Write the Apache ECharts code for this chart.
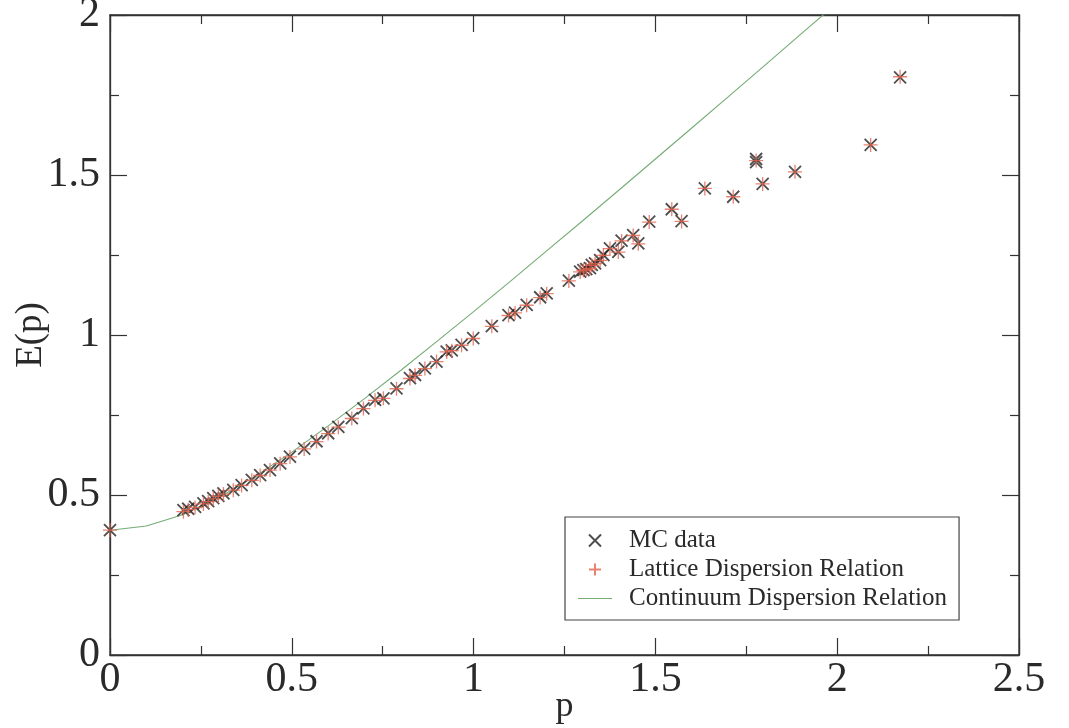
<!DOCTYPE html>
<html>
<head>
<meta charset="utf-8">
<script src="https://cdn.jsdelivr.net/npm/echarts@6/dist/echarts.min.js"></script>
<style>
  html, body { margin: 0; padding: 0; background: #ffffff; }
  #chart { width: 1069px; height: 728px; }
</style>
</head>
<body>
<div id="chart"></div>
<script>
// Monte Carlo energies E(p) versus momentum p
const mcP = [0.000, 0.202, 0.215, 0.234, 0.257, 0.270, 0.284, 0.298, 0.312, 0.339, 0.362, 0.390,
  0.413, 0.440, 0.468, 0.495, 0.534, 0.568, 0.600, 0.628, 0.665, 0.697, 0.729, 0.752, 0.788,
  0.825, 0.839, 0.866, 0.898, 0.926, 0.940, 0.967, 0.999, 1.050, 1.096, 1.114, 1.146, 1.183,
  1.201, 1.262, 1.293, 1.302, 1.310, 1.320, 1.325, 1.334, 1.348, 1.357, 1.375, 1.398, 1.407,
  1.439, 1.453, 1.483, 1.545, 1.572, 1.636, 1.714, 1.777, 1.777, 1.795, 1.884, 2.092, 2.173];
const mcE = [0.390, 0.453, 0.457, 0.463, 0.474, 0.481, 0.490, 0.497, 0.505, 0.516, 0.531, 0.547,
  0.562, 0.578, 0.599, 0.620, 0.645, 0.668, 0.693, 0.713, 0.740, 0.771, 0.797, 0.802, 0.833,
  0.865, 0.875, 0.896, 0.917, 0.948, 0.952, 0.969, 0.990, 1.028, 1.062, 1.070, 1.094, 1.118,
  1.130, 1.170, 1.198, 1.203, 1.206, 1.209, 1.219, 1.224, 1.234, 1.250, 1.271, 1.260, 1.295,
  1.312, 1.286, 1.354, 1.393, 1.356, 1.458, 1.432, 1.550, 1.540, 1.472, 1.510, 1.594, 1.805];

// Lattice dispersion relation evaluated at the same momenta
const latP = [0.000, 0.202, 0.215, 0.234, 0.257, 0.270, 0.284, 0.298, 0.312, 0.339, 0.362, 0.390,
  0.413, 0.440, 0.468, 0.495, 0.534, 0.568, 0.600, 0.628, 0.665, 0.697, 0.729, 0.752, 0.788,
  0.825, 0.839, 0.866, 0.898, 0.926, 0.940, 0.967, 0.999, 1.050, 1.096, 1.114, 1.146, 1.183,
  1.201, 1.262, 1.293, 1.302, 1.310, 1.320, 1.325, 1.334, 1.348, 1.357, 1.375, 1.398, 1.407,
  1.439, 1.453, 1.483, 1.545, 1.572, 1.636, 1.714, 1.777, 1.795, 1.884, 2.092, 2.173];
const latE = [0.390, 0.448, 0.454, 0.461, 0.472, 0.479, 0.488, 0.496, 0.503, 0.515, 0.530, 0.546,
  0.561, 0.578, 0.598, 0.619, 0.644, 0.667, 0.692, 0.712, 0.739, 0.770, 0.796, 0.802, 0.832,
  0.864, 0.874, 0.895, 0.917, 0.947, 0.951, 0.968, 0.989, 1.027, 1.061, 1.069, 1.093, 1.117,
  1.129, 1.169, 1.197, 1.202, 1.205, 1.208, 1.218, 1.223, 1.233, 1.249, 1.270, 1.259, 1.294,
  1.311, 1.285, 1.353, 1.393, 1.355, 1.458, 1.432, 1.545, 1.472, 1.510, 1.594, 1.807];

// Continuum dispersion relation
const contP = [0.0, 0.1, 0.2, 0.3, 0.4, 0.5, 0.6, 0.7, 0.8, 0.9, 1.0,
  1.1, 1.2, 1.3, 1.4, 1.5, 1.6, 1.7, 1.8, 1.9, 2.0];
const contE = [0.390, 0.403, 0.438, 0.492, 0.559, 0.634, 0.716, 0.801, 0.890, 0.981, 1.073,
  1.167, 1.262, 1.357, 1.453, 1.550, 1.647, 1.744, 1.842, 1.940, 2.038];

const xTicks = ['0', '0.5', '1', '1.5', '2', '2.5'];
const yTicks = ['0', '0.5', '1', '1.5', '2'];

const zip = (a, b) => a.map((v, i) => [v, b[i]]);

const SERIF = '"Liberation Serif", "DejaVu Serif", serif';
const CROSS = 'path://M0,0L10,10M10,0L0,10';
const PLUS = 'path://M5,0L5,10M0,5L10,5';
const DASH = 'path://M0,0L34,0L34,1.2L0,1.2Z';
const INK = '#2a2a2a';

const fmt = (list) => (v) => {
  const s = String(Math.round(v * 100) / 100);
  return list.includes(s) ? s : '';
};

const axisCommon = {
  axisLine: { show: true, onZero: false, lineStyle: { color: '#333', width: 1.3 } },
  axisTick: { show: true, inside: true, length: 17, lineStyle: { color: '#333', width: 1.2 } },
  minorTick: { show: true, splitNumber: 2, length: 9, lineStyle: { color: '#333', width: 1.2 } },
  splitLine: { show: false }
};

const chart = echarts.init(document.getElementById('chart'), null, { renderer: 'canvas' });
chart.setOption({
  backgroundColor: '#ffffff',
  animation: false,
  grid: {
    left: 110, right: 50, top: 15, bottom: 73,
    outerBoundsMode: 'none', containLabel: false,
    show: true, borderColor: '#333', borderWidth: 1.3, backgroundColor: 'transparent'
  },
  legend: {
    left: 565, top: 517,
    orient: 'vertical',
    backgroundColor: '#ffffff',
    borderColor: '#444', borderWidth: 1.2, borderRadius: 0,
    padding: [10, 12, 8, 13],
    itemGap: 2,
    itemWidth: 34, itemHeight: 12,
    symbolKeepAspect: true,
    textStyle: { fontFamily: SERIF, fontSize: 25, color: INK, lineHeight: 27, padding: [0, 0, 0, 12] },
    data: [
      { name: 'MC data' },
      { name: 'Lattice Dispersion Relation' },
      { name: 'Continuum Dispersion Relation', icon: DASH, itemStyle: { color: '#74ac74' } }
    ]
  },
  xAxis: [{
    type: 'value', min: 0, max: 2.5, interval: 0.5, position: 'bottom',
    name: 'p', nameLocation: 'middle', nameGap: 34, nameMoveOverlap: false,
    nameTextStyle: { fontFamily: SERIF, fontSize: 36, color: INK },
    axisLabel: { fontFamily: SERIF, fontSize: 42, color: INK, margin: 4, formatter: fmt(xTicks) },
    ...axisCommon
  }, {
    type: 'value', min: 0, max: 2.5, interval: 0.5, position: 'top',
    axisLabel: { show: false }, ...axisCommon
  }],
  yAxis: [{
    type: 'value', min: 0, max: 2, interval: 0.5, position: 'left',
    name: 'E(p)', nameLocation: 'middle', nameGap: 60, nameRotate: 90, nameMoveOverlap: false,
    nameTextStyle: { fontFamily: SERIF, fontSize: 37, color: INK },
    axisLabel: { fontFamily: SERIF, fontSize: 42, color: INK, margin: 10, formatter: fmt(yTicks) },
    ...axisCommon
  }, {
    type: 'value', min: 0, max: 2, interval: 0.5, position: 'right',
    axisLabel: { show: false }, ...axisCommon
  }],
  series: [{
    name: 'Continuum Dispersion Relation',
    type: 'line',
    data: zip(contP, contE),
    showSymbol: false, symbol: 'none',
    lineStyle: { color: '#74ac74', width: 1.1 },
    itemStyle: { color: '#74ac74' },
    clip: true, z: 1
  }, {
    name: 'MC data',
    type: 'scatter',
    data: zip(mcP, mcE),
    symbol: CROSS, symbolSize: 12,
    itemStyle: { color: 'transparent', borderColor: '#222', borderWidth: 1.8 },
    z: 2
  }, {
    name: 'Lattice Dispersion Relation',
    type: 'scatter',
    data: zip(latP, latE),
    symbol: PLUS, symbolSize: 14,
    itemStyle: { color: 'transparent', borderColor: '#e4634e', borderWidth: 1.3 },
    z: 3
  }]
});
</script>
</body>
</html>
